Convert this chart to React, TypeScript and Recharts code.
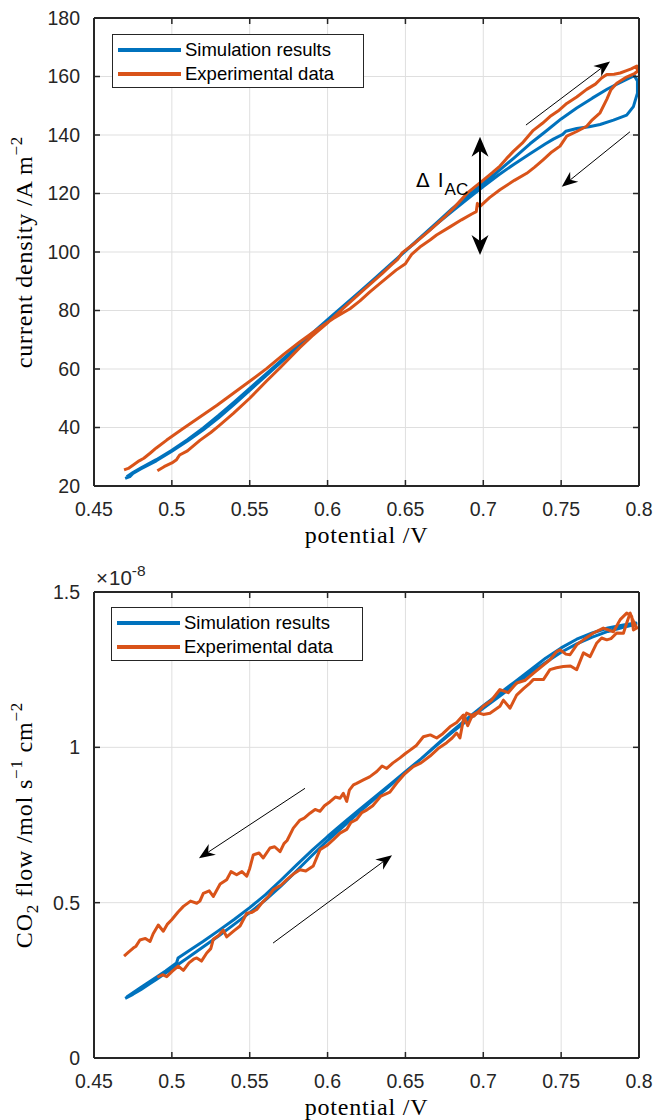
import React from 'react';
import { LineChart, Line, XAxis, YAxis, CartesianGrid, Legend, ReferenceLine, ReferenceDot } from 'recharts';

const BLUE = '#0072BD';
const ORANGE = '#D95319';
const AXIS = '#262626';
const GRID = '#dfdfdf';
const SANS = '"Liberation Sans", Arial, Helvetica, sans-serif';
const SERIF = '"Liberation Serif", "Times New Roman", serif';

// ---------- tick labels ----------
const potentialTicks = [0.45, 0.5, 0.55, 0.6, 0.65, 0.7, 0.75, 0.8];
const currentTicks = [20, 40, 60, 80, 100, 120, 140, 160, 180];
const flowTicks = [0, 0.5, 1, 1.5];
const legendOrder = ['Simulation results', 'Experimental data'];

// ---------- top: current density (A m^-2) vs potential (V) ----------
const topSimulation: number[][] = [
  [0.470, 22.6], [0.473, 23.2], [0.475, 24.3], [0.480, 25.8], [0.490, 28.6], [0.500, 31.9], [0.510, 35.4],
  [0.520, 39.1], [0.530, 43.3], [0.540, 47.9], [0.550, 52.7], [0.560, 57.5], [0.570, 62.3], [0.580, 67.0],
  [0.590, 71.8], [0.600, 76.5], [0.610, 81.2], [0.620, 85.9], [0.630, 90.6], [0.640, 95.5], [0.650, 100.4],
  [0.660, 105.2], [0.670, 110.0], [0.680, 114.8], [0.690, 119.2], [0.700, 123.5], [0.710, 127.8], [0.720, 132.3],
  [0.730, 137.0], [0.740, 141.2], [0.750, 145.5], [0.760, 149.2], [0.770, 152.6], [0.780, 155.8], [0.790, 158.5],
  [0.797, 160.3], [0.799, 158.5], [0.799, 154.3], [0.7964, 149.7], [0.7921, 146.8], [0.7836, 145.1], [0.775, 143.6],
  [0.768, 142.8], [0.760, 142.2], [0.753, 141.3], [0.751, 140.2], [0.745, 138.6], [0.740, 137.0], [0.730, 133.6],
  [0.720, 130.1], [0.710, 126.4], [0.700, 122.4], [0.690, 118.2], [0.680, 113.9], [0.670, 109.5], [0.660, 105.0],
  [0.650, 100.3], [0.640, 95.6], [0.630, 90.8], [0.620, 86.1], [0.610, 81.5], [0.600, 76.9], [0.590, 72.2],
  [0.580, 67.5], [0.570, 62.8], [0.560, 58.1], [0.550, 53.4], [0.540, 48.7], [0.530, 44.1], [0.520, 39.8],
  [0.510, 35.8], [0.500, 32.2], [0.490, 29.0], [0.480, 26.1], [0.475, 24.6], [0.471, 23.2],
];

const topExperimental: number[][] = [
  [0.4907, 25.2], [0.4950, 26.6], [0.5000, 27.9], [0.5030, 29.0], [0.5050, 30.6], [0.5100, 32.0], [0.5180, 35.6],
  [0.5250, 38.3], [0.5300, 40.5], [0.5395, 44.8], [0.5500, 50.0], [0.5610, 56.0], [0.5700, 60.7], [0.5823, 67.4],
  [0.5900, 71.2], [0.6000, 75.8], [0.6100, 80.7], [0.6230, 87.0], [0.6350, 92.6], [0.6410, 95.6], [0.6450, 97.5],
  [0.6480, 99.8], [0.6560, 103.0], [0.6658, 107.5], [0.6750, 111.9], [0.6820, 115.6], [0.6900, 120.3], [0.7000, 124.6],
  [0.7060, 127.2], [0.7107, 129.4], [0.7150, 132.0], [0.7193, 134.4], [0.7250, 137.2], [0.7321, 141.6], [0.7380, 144.0],
  [0.7428, 146.3], [0.7480, 148.2], [0.7536, 150.8], [0.7600, 153.0], [0.7664, 155.6], [0.7720, 157.4], [0.7760, 159.5],
  [0.7793, 160.7], [0.7840, 160.8], [0.7879, 161.2], [0.7920, 162.0], [0.7950, 162.6], [0.7986, 163.6], [0.7990, 161.8],
  [0.7974, 161.1], [0.7920, 159.8], [0.7857, 157.7], [0.7820, 155.5], [0.7793, 152.2], [0.7750, 147.6], [0.7700, 145.2],
  [0.7664, 143.0], [0.7600, 141.2], [0.7536, 139.6], [0.7493, 136.2], [0.7440, 134.2], [0.7386, 131.6], [0.7330, 129.0],
  [0.7279, 126.9], [0.7200, 124.5], [0.7107, 121.3], [0.7040, 118.6], [0.6979, 115.6], [0.6962, 116.6], [0.6955, 113.8],
  [0.6926, 113.0], [0.6860, 111.0], [0.6786, 108.6], [0.6700, 105.8], [0.6658, 104.1], [0.6600, 102.0], [0.6540, 99.2],
  [0.6520, 97.6], [0.6500, 96.0], [0.6440, 93.8], [0.6337, 89.3], [0.6270, 86.3], [0.6208, 83.3], [0.6144, 80.6],
  [0.6037, 77.3], [0.5930, 73.4], [0.5823, 69.3], [0.5720, 65.1], [0.5610, 60.2], [0.5500, 55.8], [0.5395, 51.7],
  [0.5290, 47.6], [0.5180, 43.6], [0.5070, 39.6], [0.4967, 35.7], [0.4900, 33.0], [0.4860, 31.2], [0.4820, 29.5],
  [0.4790, 28.6], [0.4752, 27.2], [0.4720, 26.0], [0.4693, 25.5],
];

// ---------- bottom: CO2 flow (x1e-8 mol s^-1 cm^-2) vs potential (V) ----------
const bottomSimulation: number[][] = [
  [0.470, 0.192], [0.475, 0.205], [0.480, 0.220], [0.486, 0.240], [0.490, 0.253], [0.500, 0.287], [0.510, 0.322],
  [0.520, 0.357], [0.530, 0.393], [0.540, 0.430], [0.550, 0.468], [0.560, 0.508], [0.570, 0.553], [0.580, 0.602],
  [0.590, 0.652], [0.600, 0.700], [0.610, 0.745], [0.620, 0.790], [0.630, 0.833], [0.640, 0.876], [0.650, 0.920],
  [0.660, 0.963], [0.670, 1.008], [0.680, 1.052], [0.690, 1.094], [0.700, 1.134], [0.710, 1.172], [0.720, 1.210],
  [0.730, 1.248], [0.740, 1.287], [0.750, 1.320], [0.760, 1.348], [0.770, 1.368], [0.780, 1.384], [0.790, 1.394],
  [0.798, 1.400], [0.798, 1.396], [0.790, 1.386], [0.780, 1.373], [0.770, 1.355], [0.760, 1.333], [0.750, 1.306],
  [0.740, 1.273], [0.730, 1.238], [0.720, 1.201], [0.710, 1.163], [0.700, 1.126], [0.690, 1.088], [0.680, 1.048],
  [0.670, 1.006], [0.660, 0.963], [0.650, 0.922], [0.640, 0.880], [0.630, 0.839], [0.620, 0.798], [0.610, 0.756],
  [0.600, 0.713], [0.590, 0.668], [0.580, 0.621], [0.570, 0.572], [0.560, 0.525], [0.550, 0.484], [0.540, 0.446],
  [0.530, 0.410], [0.520, 0.375], [0.510, 0.342], [0.504, 0.322], [0.503, 0.306], [0.496, 0.280], [0.490, 0.260],
  [0.480, 0.227], [0.471, 0.196],
];

const bottomExperimental: number[][] = [
  [0.4907, 0.260], [0.4940, 0.268], [0.4967, 0.262], [0.5000, 0.278], [0.5041, 0.296], [0.5074, 0.282], [0.5110, 0.306],
  [0.5140, 0.318], [0.5160, 0.322], [0.5190, 0.312], [0.5224, 0.338], [0.5250, 0.352], [0.5266, 0.382], [0.5300, 0.394],
  [0.5330, 0.412], [0.5352, 0.390], [0.5400, 0.410], [0.5438, 0.425], [0.5481, 0.466], [0.5510, 0.468], [0.5545, 0.478],
  [0.5580, 0.500], [0.5620, 0.520], [0.5652, 0.542], [0.5700, 0.556], [0.5738, 0.574], [0.5780, 0.592], [0.5823, 0.606],
  [0.5860, 0.602], [0.5908, 0.618], [0.5951, 0.670], [0.6000, 0.686], [0.6037, 0.703], [0.6080, 0.724], [0.6123, 0.736],
  [0.6150, 0.758], [0.6187, 0.768], [0.6220, 0.790], [0.6251, 0.798], [0.6290, 0.812], [0.6340, 0.842], [0.6400, 0.856],
  [0.6444, 0.885], [0.6490, 0.912], [0.6550, 0.938], [0.6600, 0.950], [0.6658, 0.972], [0.6710, 0.996], [0.6765, 1.015],
  [0.6800, 1.030], [0.6829, 1.046], [0.6850, 1.030], [0.6872, 1.088], [0.6893, 1.110], [0.6940, 1.100], [0.6979, 1.120],
  [0.7000, 1.132], [0.7050, 1.150], [0.7107, 1.186], [0.7160, 1.176], [0.7214, 1.207], [0.7270, 1.216], [0.7321, 1.238],
  [0.7380, 1.262], [0.7428, 1.282], [0.7471, 1.308], [0.7493, 1.314], [0.7530, 1.300], [0.7557, 1.298], [0.7600, 1.330],
  [0.7643, 1.346], [0.7707, 1.368], [0.7771, 1.384], [0.7836, 1.372], [0.7879, 1.411], [0.7921, 1.432], [0.7953, 1.422],
  [0.7964, 1.378], [0.7986, 1.384], [0.7960, 1.410], [0.7943, 1.432], [0.7921, 1.400], [0.7900, 1.367], [0.7857, 1.368],
  [0.7820, 1.350], [0.7793, 1.346], [0.7760, 1.352], [0.7729, 1.336], [0.7686, 1.292], [0.7643, 1.304], [0.7600, 1.250],
  [0.7560, 1.262], [0.7514, 1.260], [0.7470, 1.256], [0.7428, 1.250], [0.7386, 1.218], [0.7321, 1.218], [0.7300, 1.207],
  [0.7260, 1.190], [0.7214, 1.168], [0.7172, 1.126], [0.7129, 1.152], [0.7107, 1.132], [0.7043, 1.110], [0.7000, 1.106],
  [0.6960, 1.112], [0.6930, 1.104], [0.6900, 1.070], [0.6872, 1.104], [0.6829, 1.080], [0.6786, 1.066], [0.6740, 1.044],
  [0.6701, 1.030], [0.6660, 1.040], [0.6615, 1.034], [0.6570, 1.006], [0.6530, 0.991], [0.6500, 0.980], [0.6465, 0.966],
  [0.6420, 0.950], [0.6380, 0.932], [0.6350, 0.940], [0.6316, 0.922], [0.6270, 0.905], [0.6230, 0.895], [0.6187, 0.884],
  [0.6166, 0.879], [0.6140, 0.862], [0.6123, 0.826], [0.6101, 0.852], [0.6080, 0.836], [0.6050, 0.840], [0.6016, 0.825],
  [0.5980, 0.812], [0.5951, 0.794], [0.5920, 0.800], [0.5887, 0.788], [0.5850, 0.772], [0.5823, 0.766], [0.5800, 0.752],
  [0.5780, 0.740], [0.5740, 0.700], [0.5720, 0.690], [0.5695, 0.664], [0.5660, 0.680], [0.5630, 0.676], [0.5587, 0.644],
  [0.5560, 0.660], [0.5523, 0.654], [0.5500, 0.610], [0.5481, 0.585], [0.5450, 0.600], [0.5416, 0.590], [0.5380, 0.600],
  [0.5352, 0.574], [0.5310, 0.560], [0.5266, 0.520], [0.5240, 0.538], [0.5202, 0.530], [0.5180, 0.505], [0.5160, 0.498],
  [0.5120, 0.505], [0.5074, 0.488], [0.5040, 0.470], [0.4999, 0.445], [0.4970, 0.430], [0.4945, 0.408], [0.4913, 0.428],
  [0.4880, 0.400], [0.4860, 0.375], [0.4830, 0.385], [0.4795, 0.380], [0.4770, 0.360], [0.4752, 0.354], [0.4720, 0.340],
  [0.4693, 0.328],
];

// ---------- annotation anchors (data units) ----------
const topArrowForward = [{ x: 0.7274, y: 143.4 }, { x: 0.7814, y: 165.1 }];
const topArrowReverse = [{ x: 0.7942, y: 141.1 }, { x: 0.7504, y: 122.3 }];
const topDeltaArrow = [{ x: 0.6979, y: 139.4 }, { x: 0.6979, y: 99.0 }];
const topDeltaLabel = { x: 0.6568, y: 122.2 };
const bottomArrowReverse = [{ x: 0.5855, y: 0.868 }, { x: 0.5174, y: 0.643 }];
const bottomArrowForward = [{ x: 0.565, y: 0.370 }, { x: 0.6414, y: 0.653 }];

const toPts = (a: number[][]) => a.map(([x, y]) => ({ x, y }));

function headPath(x1: number, y1: number, x2: number, y2: number, len: number, half: number, notch: number) {
  const d = Math.hypot(x2 - x1, y2 - y1) || 1;
  const ux = (x2 - x1) / d, uy = (y2 - y1) / d;
  const px = -uy, py = ux;
  const bx = x2 - ux * len, by = y2 - uy * len;
  const nx = x2 - ux * (len - notch), ny = y2 - uy * (len - notch);
  return {
    d: `M${x2},${y2} L${bx + px * half},${by + py * half} L${nx},${ny} L${bx - px * half},${by - py * half} Z`,
    nx, ny,
  };
}

const thinArrow = (props: any) => {
  const { x1, y1, x2, y2 } = props;
  const h = headPath(x1, y1, x2, y2, 16, 6.5, 5);
  return (
    <g>
      <line x1={x1} y1={y1} x2={h.nx} y2={h.ny} stroke="#000" strokeWidth={1} />
      <path d={h.d} fill="#000" />
    </g>
  );
};

const doubleArrow = (props: any) => {
  const { x1, y1, x2, y2 } = props;
  const a = headPath(x2, y2, x1, y1, 20, 8.5, 6);
  const b = headPath(x1, y1, x2, y2, 20, 8.5, 6);
  return (
    <g>
      <line x1={a.nx} y1={a.ny} x2={b.nx} y2={b.ny} stroke="#000" strokeWidth={2} />
      <path d={a.d} fill="#000" />
      <path d={b.d} fill="#000" />
    </g>
  );
};

const deltaText = (props: any) => (
  <text x={props.cx} y={props.cy} fill="#000" fontFamily={SANS} fontSize={21}>
    <tspan fontFamily='"DejaVu Sans", sans-serif' fontSize={20}>Δ</tspan>
    <tspan dx={8}>I</tspan>
    <tspan dx={1} dy={8} fontSize={17}>AC</tspan>
  </text>
);

const renderLegend = (props: any) => {
  const payload = [...(props.payload || [])].sort(
    (a: any, b: any) => legendOrder.indexOf(a.value) - legendOrder.indexOf(b.value)
  );
  return (
    <div
      style={{
        position: 'relative', width: 252, height: 54, boxSizing: 'border-box',
        border: `1px solid ${AXIS}`, background: '#fff', fontFamily: SANS,
      }}
    >
      {payload.map((e: any, i: number) => (
        <div key={i} style={{ position: 'absolute', left: 5, top: 3 + i * 24, height: 24, display: 'flex', alignItems: 'center' }}>
          <div style={{ width: 63, height: 4, background: e.color }} />
          <span style={{ marginLeft: 4, fontSize: 18.5, color: '#000', whiteSpace: 'nowrap' }}>{e.value}</span>
        </div>
      ))}
    </div>
  );
};

const tickStyle = { fill: AXIS, fontSize: 19.5, fontFamily: SANS };
const axisLineStyle = { stroke: AXIS, strokeWidth: 2 };
const tickLineStyle = { stroke: AXIS, strokeWidth: 1.5 };
const blank = () => '';

const xLabel = (props: any) => {
  const vb = props.viewBox || { x: 94, y: 486, width: 545 };
  const cx = vb.x + vb.width / 2;
  return (
    <text x={cx} y={vb.y + 57} textAnchor="middle" fill="#000" fontFamily={SERIF} fontSize={24} letterSpacing={0.8}>
      potential /V
    </text>
  );
};

const topYLabel = (props: any) => {
  const vb = props.viewBox || { y: 18, height: 468 };
  const cx = 32;
  const cy = vb.y + vb.height / 2;
  return (
    <text x={cx} y={cy} transform={`rotate(-90 ${cx} ${cy})`} textAnchor="middle" fill="#000" fontFamily={SERIF} fontSize={24} letterSpacing={0.8}>
      current density /A m<tspan dy={-10} fontSize={17}>−2</tspan>
    </text>
  );
};

const bottomYLabel = (props: any) => {
  const vb = props.viewBox || { y: 32, height: 466 };
  const cx = 32;
  const cy = vb.y + vb.height / 2;
  return (
    <g>
      <text x={cx} y={cy} transform={`rotate(-90 ${cx} ${cy})`} textAnchor="middle" fill="#000" fontFamily={SERIF} fontSize={24} letterSpacing={0.8}>
        CO<tspan dy={6} fontSize={17}>2</tspan>
        <tspan dy={-6}> flow /mol s</tspan>
        <tspan dy={-10} fontSize={17}>−1</tspan>
        <tspan dy={10}> cm</tspan>
        <tspan dy={-10} fontSize={17}>−2</tspan>
      </text>
      <text x={96} y={vb.y - 7} fill={AXIS} fontFamily={SANS} fontSize={20.5}>
        ×<tspan dx={1}>10</tspan><tspan dy={-9} fontSize={15.5}>-8</tspan>
      </text>
    </g>
  );
};

export default function App() {
  return (
    <div style={{ position: 'absolute', left: 0, top: 0, width: 655, height: 1120, background: '#fff', fontFamily: SANS }}>
      <div style={{ position: 'absolute', left: 0, top: 0 }}>
        <LineChart width={655} height={560} margin={{ top: 17, right: 15, bottom: 73, left: 93 }}>
          <CartesianGrid stroke={GRID} strokeWidth={1} />
          <XAxis dataKey="x" type="number" domain={[0.45, 0.8]} ticks={potentialTicks} allowDataOverflow height={1}
            tick={tickStyle} tickSize={-6} tickMargin={22} axisLine={axisLineStyle} tickLine={tickLineStyle}
            tickFormatter={(v: number) => String(v)} label={xLabel} />
          <XAxis xAxisId="top" orientation="top" dataKey="x" type="number" domain={[0.45, 0.8]} ticks={potentialTicks}
            allowDataOverflow height={1} tickSize={-6} axisLine={axisLineStyle} tickLine={tickLineStyle} tickFormatter={blank} />
          <YAxis type="number" domain={[20, 180]} ticks={currentTicks} allowDataOverflow width={1}
            tick={tickStyle} tickSize={-6} tickMargin={20} axisLine={axisLineStyle} tickLine={tickLineStyle} label={topYLabel} />
          <YAxis yAxisId="right" orientation="right" type="number" domain={[20, 180]} ticks={currentTicks} allowDataOverflow
            width={1} tickSize={-6} axisLine={axisLineStyle} tickLine={tickLineStyle} tickFormatter={blank} />
          <Line data={toPts(topSimulation)} dataKey="y" name="Simulation results" type="linear" stroke={BLUE} strokeWidth={3}
            dot={false} isAnimationActive={false} strokeLinejoin="round" />
          <Line data={toPts(topExperimental)} dataKey="y" name="Experimental data" type="linear" stroke={ORANGE} strokeWidth={3}
            dot={false} isAnimationActive={false} strokeLinejoin="round" />
          <ReferenceLine segment={topArrowForward} shape={thinArrow} />
          <ReferenceLine segment={topArrowReverse} shape={thinArrow} />
          <ReferenceLine segment={topDeltaArrow} shape={doubleArrow} />
          <ReferenceDot x={topDeltaLabel.x} y={topDeltaLabel.y} r={1} shape={deltaText} />
          <Legend layout="horizontal" align="center" verticalAlign="middle" content={renderLegend}
            wrapperStyle={{ left: 112, top: 34, width: 252, height: 54 }} />
        </LineChart>
      </div>
      <div style={{ position: 'absolute', left: 0, top: 560 }}>
        <LineChart width={655} height={560} margin={{ top: 31, right: 15, bottom: 61, left: 93 }}>
          <CartesianGrid stroke={GRID} strokeWidth={1} />
          <XAxis dataKey="x" type="number" domain={[0.45, 0.8]} ticks={potentialTicks} allowDataOverflow height={1}
            tick={tickStyle} tickSize={-6} tickMargin={22} axisLine={axisLineStyle} tickLine={tickLineStyle}
            tickFormatter={(v: number) => String(v)} label={xLabel} />
          <XAxis xAxisId="top" orientation="top" dataKey="x" type="number" domain={[0.45, 0.8]} ticks={potentialTicks}
            allowDataOverflow height={1} tickSize={-6} axisLine={axisLineStyle} tickLine={tickLineStyle} tickFormatter={blank} />
          <YAxis type="number" domain={[0, 1.5]} ticks={flowTicks} allowDataOverflow width={1}
            tick={tickStyle} tickSize={-6} tickMargin={20} axisLine={axisLineStyle} tickLine={tickLineStyle}
            tickFormatter={(v: number) => String(v)} label={bottomYLabel} />
          <YAxis yAxisId="right" orientation="right" type="number" domain={[0, 1.5]} ticks={flowTicks} allowDataOverflow
            width={1} tickSize={-6} axisLine={axisLineStyle} tickLine={tickLineStyle} tickFormatter={blank} />
          <Line data={toPts(bottomSimulation)} dataKey="y" name="Simulation results" type="linear" stroke={BLUE} strokeWidth={3}
            dot={false} isAnimationActive={false} strokeLinejoin="round" />
          <Line data={toPts(bottomExperimental)} dataKey="y" name="Experimental data" type="linear" stroke={ORANGE} strokeWidth={3}
            dot={false} isAnimationActive={false} strokeLinejoin="round" />
          <ReferenceLine segment={bottomArrowReverse} shape={thinArrow} />
          <ReferenceLine segment={bottomArrowForward} shape={thinArrow} />
          <Legend layout="horizontal" align="center" verticalAlign="middle" content={renderLegend}
            wrapperStyle={{ left: 111, top: 47, width: 252, height: 54 }} />
        </LineChart>
      </div>
    </div>
  );
}
